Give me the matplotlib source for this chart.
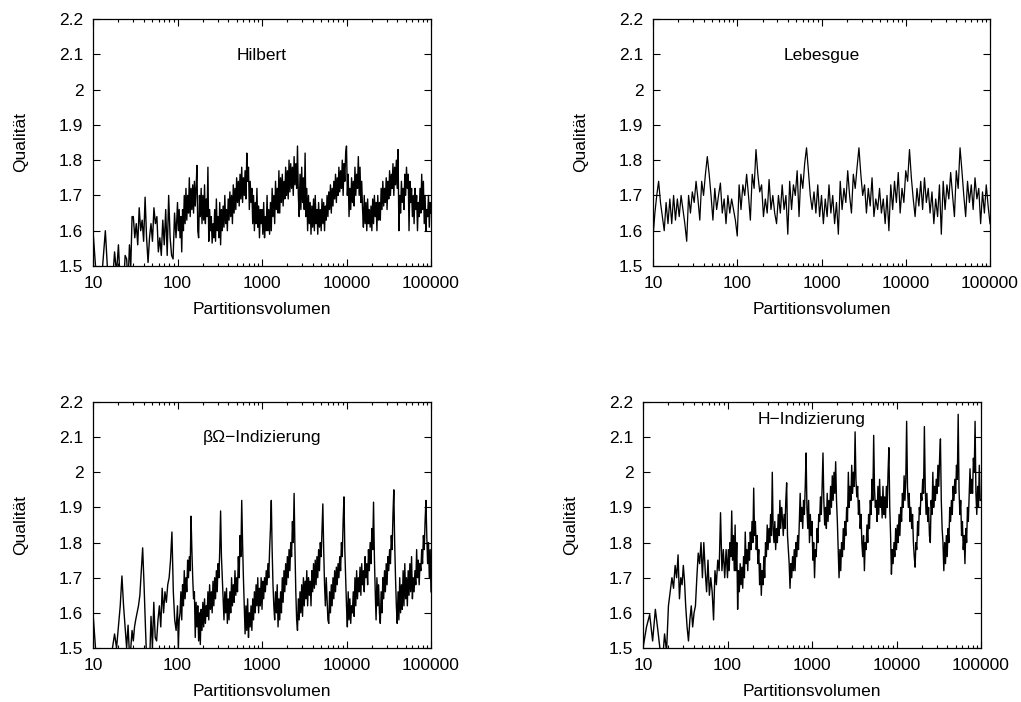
import numpy as np
import matplotlib
matplotlib.use("Agg")
import matplotlib.pyplot as plt
from matplotlib.ticker import FuncFormatter, FixedLocator

plt.rcParams['font.family'] = ['Liberation Sans', 'DejaVu Sans']

# ---------------- data ----------------
titles = ["Hilbert", "Lebesgue", "βΩ−Indizierung", "H−Indizierung"]
x_label = "Partitionsvolumen"
y_label = "Qualität"
x_ticks = [10, 100, 1000, 10000, 100000]
y_ticks = [1.5, 1.6, 1.7, 1.8, 1.9, 2.0, 2.1, 2.2]

# Hilbert: integers 10..29, then 30..100 (30 pts), then 100 pts per decade
hilbert_int = [1.60, 1.46, 1.44, 1.50, 1.60, 1.47, 1.43, 1.45, 1.54, 1.48,
               1.56, 1.45, 1.47, 1.44, 1.53, 1.52, 1.45, 1.56, 1.50, 1.64]
hilbert_d1 = [1.64, 1.58, 1.62, 1.56, 1.665, 1.60, 1.63, 1.57, 1.695, 1.58,
              1.51, 1.58, 1.62, 1.57, 1.665, 1.62, 1.64, 1.54, 1.58, 1.53,
              1.63, 1.56, 1.66, 1.53, 1.70, 1.58, 1.53, 1.52, 1.65, 1.58]
hilbert_d2 = [1.68, 1.60, 1.66, 1.58, 1.64, 1.54, 1.66, 1.60, 1.70, 1.62,
              1.72, 1.63, 1.70, 1.65, 1.75, 1.64, 1.72, 1.66, 1.73, 1.65,
              1.74, 1.67, 1.72, 1.785, 1.60, 1.58, 1.70, 1.64, 1.72, 1.62,
              1.70, 1.63, 1.73, 1.62, 1.69, 1.64, 1.78, 1.57, 1.66, 1.60,
              1.64, 1.565, 1.62, 1.58, 1.66, 1.57, 1.69, 1.60, 1.64, 1.58,
              1.68, 1.56, 1.66, 1.60, 1.67, 1.61, 1.70, 1.62, 1.66, 1.60,
              1.69, 1.63, 1.71, 1.64, 1.70, 1.62, 1.73, 1.65, 1.72, 1.66,
              1.75, 1.68, 1.74, 1.67, 1.76, 1.69, 1.78, 1.68, 1.75, 1.70,
              1.77, 1.69, 1.82, 1.74, 1.78, 1.66, 1.74, 1.68, 1.72, 1.62,
              1.70, 1.60, 1.68, 1.62, 1.72, 1.61, 1.67, 1.58, 1.66, 1.62]
hilbert_d3 = [1.66, 1.59, 1.68, 1.58, 1.64, 1.60, 1.70, 1.60, 1.66, 1.59,
              1.68, 1.60, 1.72, 1.64, 1.70, 1.62, 1.74, 1.66, 1.72, 1.65,
              1.77, 1.65, 1.75, 1.68, 1.76, 1.67, 1.74, 1.69, 1.78, 1.70,
              1.77, 1.69, 1.80, 1.71, 1.79, 1.72, 1.78, 1.70, 1.81, 1.73,
              1.79, 1.72, 1.84, 1.70, 1.64, 1.76, 1.66, 1.78, 1.68, 1.75,
              1.66, 1.82, 1.64, 1.72, 1.60, 1.70, 1.62, 1.68, 1.59, 1.67,
              1.61, 1.69, 1.60, 1.70, 1.62, 1.66, 1.59, 1.68, 1.61, 1.66,
              1.60, 1.69, 1.62, 1.68, 1.60, 1.67, 1.63, 1.70, 1.64, 1.71,
              1.66, 1.73, 1.65, 1.72, 1.67, 1.74, 1.69, 1.76, 1.68, 1.75,
              1.70, 1.78, 1.71, 1.77, 1.72, 1.80, 1.70, 1.79, 1.74, 1.82]
hilbert_d4 = [1.84, 1.70, 1.76, 1.64, 1.72, 1.66, 1.75, 1.68, 1.74, 1.67,
              1.78, 1.70, 1.76, 1.72, 1.81, 1.70, 1.78, 1.68, 1.74, 1.66,
              1.61, 1.70, 1.62, 1.68, 1.60, 1.69, 1.62, 1.66, 1.61, 1.67,
              1.60, 1.69, 1.62, 1.70, 1.64, 1.68, 1.60, 1.70, 1.63, 1.68,
              1.63, 1.72, 1.66, 1.74, 1.67, 1.72, 1.68, 1.75, 1.66, 1.74,
              1.69, 1.77, 1.70, 1.76, 1.72, 1.79, 1.70, 1.78, 1.73, 1.80,
              1.72, 1.83, 1.60, 1.70, 1.65, 1.74, 1.68, 1.72, 1.66, 1.76,
              1.70, 1.78, 1.72, 1.76, 1.60, 1.74, 1.68, 1.72, 1.64, 1.70,
              1.62, 1.72, 1.66, 1.70, 1.60, 1.68, 1.64, 1.72, 1.65, 1.76,
              1.66, 1.74, 1.62, 1.70, 1.60, 1.66, 1.64, 1.70, 1.61, 1.68,
              1.65]

# Lebesgue: 181 points, evenly spaced on the log axis from 10 to 100000
lebesgue = [1.58, 1.65, 1.70, 1.74, 1.68, 1.64, 1.60, 1.68, 1.62, 1.69,
            1.62, 1.70, 1.63, 1.69, 1.64, 1.70, 1.66, 1.62, 1.57, 1.70,
            1.65, 1.71, 1.68, 1.74, 1.69, 1.63, 1.74, 1.70, 1.76, 1.81,
            1.76, 1.70, 1.63, 1.72, 1.66, 1.70, 1.735, 1.65, 1.69, 1.62,
            1.70, 1.65, 1.69, 1.66, 1.63, 1.585, 1.73, 1.66, 1.73, 1.70,
            1.76, 1.70, 1.63, 1.76, 1.72, 1.83, 1.76, 1.71, 1.73, 1.64,
            1.69, 1.65, 1.745, 1.66, 1.70, 1.65, 1.62, 1.70, 1.65, 1.73,
            1.66, 1.70, 1.59, 1.74, 1.66, 1.73, 1.70, 1.77, 1.64, 1.76,
            1.72, 1.79, 1.835, 1.77, 1.70, 1.66, 1.71, 1.65, 1.73, 1.64,
            1.70, 1.62, 1.69, 1.64, 1.73, 1.65, 1.70, 1.62, 1.68, 1.59,
            1.74, 1.66, 1.72, 1.68, 1.77, 1.70, 1.65, 1.76, 1.72, 1.78,
            1.835, 1.76, 1.70, 1.73, 1.65, 1.72, 1.67, 1.75, 1.64, 1.69,
            1.66, 1.72, 1.65, 1.69, 1.62, 1.70, 1.60, 1.73, 1.66, 1.74,
            1.68, 1.765, 1.65, 1.72, 1.68, 1.77, 1.74, 1.83, 1.75, 1.69,
            1.64, 1.72, 1.67, 1.74, 1.66, 1.75, 1.68, 1.72, 1.65, 1.71,
            1.62, 1.69, 1.64, 1.73, 1.59, 1.74, 1.66, 1.73, 1.69, 1.765,
            1.70, 1.64, 1.77, 1.72, 1.835, 1.77, 1.70, 1.64, 1.74, 1.68,
            1.73, 1.66, 1.75, 1.69, 1.72, 1.62, 1.71, 1.65, 1.73, 1.67,
            1.62]

# beta-Omega: integers 10..31, then 32..100 (30 pts), then 100 pts per decade
beta_int = [1.60, 1.46, 1.42, 1.44, 1.41, 1.45, 1.48, 1.50, 1.54, 1.50,
            1.56, 1.62, 1.705, 1.62, 1.56, 1.50, 1.565, 1.48, 1.50, 1.55,
            1.52, 1.56]
beta_d1 = [1.58, 1.60, 1.62, 1.65, 1.72, 1.785, 1.68, 1.56, 1.45, 1.40,
           1.46, 1.59, 1.50, 1.63, 1.53, 1.52, 1.58, 1.62, 1.56, 1.67,
           1.60, 1.66, 1.63, 1.68, 1.70, 1.75, 1.83, 1.66, 1.58, 1.55]
beta_d2 = [1.62, 1.50, 1.58, 1.60, 1.66, 1.58, 1.68, 1.62, 1.72, 1.64,
           1.70, 1.66, 1.75, 1.70, 1.76, 1.72, 1.875, 1.78, 1.70, 1.64,
           1.66, 1.53, 1.63, 1.56, 1.62, 1.52, 1.60, 1.51, 1.61, 1.55,
           1.63, 1.56, 1.64, 1.57, 1.62, 1.59, 1.66, 1.58, 1.68, 1.61,
           1.66, 1.60, 1.69, 1.62, 1.70, 1.64, 1.72, 1.66, 1.74, 1.70,
           1.78, 1.89, 1.76, 1.70, 1.64, 1.58, 1.66, 1.60, 1.67, 1.57,
           1.64, 1.58, 1.66, 1.60, 1.70, 1.62, 1.68, 1.63, 1.72, 1.65,
           1.70, 1.66, 1.76, 1.70, 1.82, 1.76, 1.92, 1.80, 1.70, 1.62,
           1.54, 1.62, 1.55, 1.64, 1.53, 1.60, 1.56, 1.62, 1.55, 1.64,
           1.58, 1.66, 1.60, 1.68, 1.62, 1.70, 1.60, 1.67, 1.62, 1.70]
beta_d3 = [1.61, 1.69, 1.64, 1.70, 1.66, 1.72, 1.68, 1.74, 1.70, 1.78,
           1.84, 1.92, 1.78, 1.68, 1.62, 1.58, 1.66, 1.60, 1.68, 1.56,
           1.64, 1.58, 1.66, 1.60, 1.70, 1.63, 1.72, 1.66, 1.74, 1.68,
           1.76, 1.70, 1.78, 1.72, 1.80, 1.76, 1.86, 1.80, 1.94, 1.78,
           1.66, 1.58, 1.55, 1.64, 1.58, 1.66, 1.60, 1.68, 1.59, 1.70,
           1.62, 1.69, 1.64, 1.72, 1.62, 1.70, 1.65, 1.69, 1.62, 1.72,
           1.66, 1.74, 1.67, 1.75, 1.68, 1.76, 1.70, 1.78, 1.72, 1.80,
           1.76, 1.84, 1.91, 1.78, 1.68, 1.62, 1.70, 1.64, 1.58, 1.57,
           1.66, 1.60, 1.68, 1.62, 1.70, 1.64, 1.72, 1.66, 1.73, 1.68,
           1.74, 1.70, 1.76, 1.72, 1.80, 1.76, 1.86, 1.93, 1.78, 1.70]
beta_d4 = [1.62, 1.56, 1.66, 1.58, 1.64, 1.57, 1.62, 1.60, 1.66, 1.59,
           1.70, 1.62, 1.72, 1.64, 1.70, 1.66, 1.73, 1.65, 1.74, 1.68,
           1.72, 1.66, 1.76, 1.70, 1.74, 1.68, 1.78, 1.72, 1.80, 1.74,
           1.84, 1.78, 1.915, 1.76, 1.66, 1.58, 1.70, 1.62, 1.68, 1.60,
           1.57, 1.66, 1.60, 1.70, 1.64, 1.72, 1.66, 1.74, 1.68, 1.76,
           1.72, 1.78, 1.74, 1.82, 1.78, 1.88, 1.95, 1.80, 1.70, 1.62,
           1.57, 1.66, 1.58, 1.70, 1.60, 1.68, 1.61, 1.72, 1.62, 1.74,
           1.64, 1.70, 1.62, 1.72, 1.65, 1.74, 1.66, 1.76, 1.64, 1.70,
           1.66, 1.72, 1.68, 1.78, 1.70, 1.75, 1.68, 1.74, 1.72, 1.78,
           1.74, 1.82, 1.78, 1.86, 1.92, 1.82, 1.74, 1.80, 1.70, 1.78,
           1.66]

# H-Indizierung: integers 10..31, then 32..100 (30 pts), then 100 pts per decade
h_int = [1.50, 1.56, 1.595, 1.52, 1.61, 1.55, 1.49, 1.46, 1.54, 1.49,
         1.62, 1.66, 1.70, 1.67, 1.735, 1.70, 1.765, 1.64, 1.70, 1.68,
         1.735, 1.69]
h_d1 = [1.62, 1.56, 1.52, 1.58, 1.62, 1.56, 1.60, 1.62, 1.70, 1.77,
        1.74, 1.80, 1.70, 1.80, 1.72, 1.66, 1.75, 1.65, 1.70, 1.66,
        1.58, 1.72, 1.68, 1.75, 1.72, 1.885, 1.72, 1.78, 1.70, 1.78]
h_d2 = [1.70, 1.78, 1.72, 1.80, 1.76, 1.89, 1.75, 1.82, 1.72, 1.85,
        1.72, 1.80, 1.61, 1.72, 1.66, 1.74, 1.68, 1.73, 1.67, 1.76,
        1.70, 1.83, 1.74, 1.78, 1.72, 1.80, 1.75, 1.83, 1.78, 1.86,
        1.80, 1.955, 1.82, 1.86, 1.78, 1.82, 1.74, 1.78, 1.68, 1.74,
        1.65, 1.72, 1.68, 1.76, 1.70, 1.80, 1.76, 1.85, 1.78, 1.84,
        1.80, 1.88, 1.82, 2.00, 1.84, 1.80, 1.86, 1.78, 1.84, 1.80,
        1.88, 1.82, 1.92, 1.84, 1.90, 1.87, 1.82, 1.88, 1.84, 1.92,
        1.97, 1.82, 1.78, 1.74, 1.67, 1.74, 1.70, 1.76, 1.72, 1.78,
        1.72, 1.80, 1.76, 1.82, 1.78, 1.86, 1.94, 1.86, 1.90, 1.84,
        1.92, 1.88, 1.96, 2.055, 1.90, 1.84, 1.92, 1.80, 1.88, 1.82]
h_d3 = [1.86, 1.75, 1.80, 1.70, 1.78, 1.76, 1.84, 1.80, 1.88, 1.86,
        1.93, 1.88, 1.96, 2.055, 1.92, 1.85, 1.90, 1.84, 1.94, 1.86,
        1.92, 1.88, 1.96, 1.90, 1.99, 1.92, 2.00, 1.94, 2.03, 1.92,
        1.86, 1.78, 1.70, 1.78, 1.72, 1.80, 1.76, 1.84, 1.78, 1.86,
        1.82, 1.90, 1.86, 2.00, 1.90, 1.96, 1.92, 2.02, 1.94, 2.00,
        1.96, 2.115, 1.98, 1.93, 1.96, 1.88, 1.92, 1.84, 1.88, 1.80,
        1.76, 1.82, 1.72, 1.80, 1.78, 1.85, 1.80, 1.88, 1.84, 1.92,
        1.88, 1.98, 1.92, 2.105, 1.95, 1.90, 1.92, 1.86, 1.96, 1.88,
        1.98, 1.90, 1.93, 1.87, 1.96, 1.88, 1.93, 1.87, 1.96, 1.90,
        2.00, 2.07, 1.90, 1.82, 1.71, 1.78, 1.74, 1.80, 1.76, 1.84]
h_d4 = [1.78, 1.85, 1.80, 1.88, 1.82, 1.90, 1.86, 1.94, 1.90, 1.99,
        1.92, 1.98, 2.145, 1.96, 1.90, 1.94, 1.86, 1.90, 1.84, 1.88,
        1.80, 1.76, 1.73, 1.80, 1.78, 1.86, 1.82, 1.90, 1.88, 1.94,
        1.92, 1.98, 1.94, 2.13, 1.96, 1.88, 1.94, 1.86, 1.90, 1.82,
        1.80, 1.92, 1.88, 2.00, 1.90, 1.96, 1.92, 1.98, 1.94, 2.02,
        1.96, 2.04, 2.095, 1.92, 1.84, 1.80, 1.72, 1.80, 1.74, 1.82,
        1.76, 1.84, 1.80, 1.90, 1.86, 1.92, 1.88, 1.96, 1.92, 1.98,
        1.94, 2.02, 1.98, 2.165, 1.95, 1.88, 1.92, 1.82, 1.86, 1.78,
        1.82, 1.74, 1.84, 1.80, 1.90, 1.86, 1.94, 2.01, 1.94, 1.98,
        1.94, 2.04, 2.00, 2.145, 1.94, 1.88, 1.96, 1.90, 2.02, 1.92,
        1.92]


def dense_x(int_end, decade_lists):
    """x positions: every integer from 10 to int_end, then geometric sampling."""
    xs = [np.arange(10, int_end + 1, dtype=float)]
    start = int_end + 1
    d1, d2, d3, d4 = decade_lists
    xs.append(np.geomspace(start, 100, len(d1), endpoint=False))
    xs.append(np.geomspace(100, 1000, len(d2), endpoint=False))
    xs.append(np.geomspace(1000, 10000, len(d3), endpoint=False))
    xs.append(np.geomspace(10000, 100000, len(d4)))
    return np.concatenate(xs)


series = []
series.append((dense_x(29, [hilbert_d1, hilbert_d2, hilbert_d3, hilbert_d4]),
               np.array(hilbert_int + hilbert_d1 + hilbert_d2 + hilbert_d3 + hilbert_d4)))
series.append((np.geomspace(10, 100000, len(lebesgue)), np.array(lebesgue)))
series.append((dense_x(31, [beta_d1, beta_d2, beta_d3, beta_d4]),
               np.array(beta_int + beta_d1 + beta_d2 + beta_d3 + beta_d4)))
series.append((dense_x(31, [h_d1, h_d2, h_d3, h_d4]),
               np.array(h_int + h_d1 + h_d2 + h_d3 + h_d4)))

# ---------------- layout ----------------
W, H = 1021, 702
fig = plt.figure(figsize=(W / 100, H / 100), dpi=100)

# axes boxes in pixels: (left, top, right, bottom)
boxes = [(93, 19, 431, 266), (653, 19, 990, 266),
         (93, 402, 431, 648), (643, 402, 981, 648)]
title_y = [0.854, 0.854, 0.854, 0.93]
line_w = [1.0, 0.9, 1.0, 1.0]
FS = 12.5

fmt = FuncFormatter(lambda v, p: "%g" % v)

for i, (box, (xv, yv)) in enumerate(zip(boxes, series)):
    l, t, r, b = box
    ax = fig.add_axes([l / W, 1 - b / H, (r - l) / W, (b - t) / H])
    ax.plot(xv, yv, color='black', lw=line_w[i])
    ax.set_xscale('log')
    ax.set_xlim(10, 100000)
    ax.set_ylim(1.5, 2.2)
    ax.xaxis.set_major_locator(FixedLocator(x_ticks))
    ax.xaxis.set_major_formatter(fmt)
    ax.yaxis.set_major_locator(FixedLocator(y_ticks))
    ax.yaxis.set_major_formatter(fmt)
    ax.tick_params(which='both', direction='in', top=True, right=True,
                   labelsize=FS, width=0.8, color='black')
    ax.tick_params(which='major', length=5, pad=7)
    ax.tick_params(which='minor', length=2.5)
    for s in ax.spines.values():
        s.set_linewidth(0.9)
    ax.set_xlabel(x_label, fontsize=FS)
    ax.set_ylabel(y_label, fontsize=FS)
    ax.yaxis.set_label_coords(-65 / (r - l), 0.5)
    ax.xaxis.set_label_coords(0.5, -36 / (b - t))
    ax.text(0.5, title_y[i], titles[i], transform=ax.transAxes,
            ha='center', va='center', fontsize=FS)

fig.savefig("out.png", dpi=100)
